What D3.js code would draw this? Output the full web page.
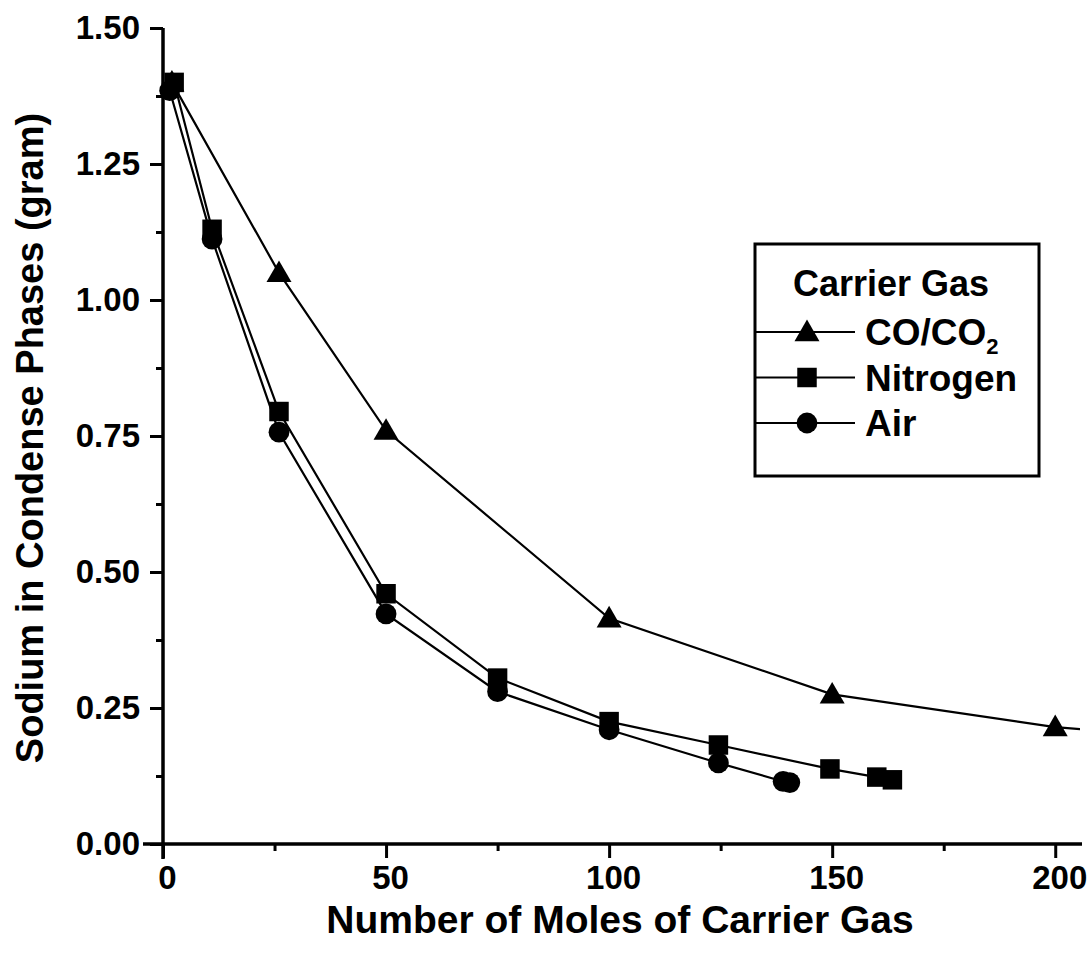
<!DOCTYPE html>
<html>
<head>
<meta charset="utf-8">
<script src="https://cdn.jsdelivr.net/npm/d3@7"></script>
<style>
  body { margin: 0; background: #fff; }
  text { font-family: "Liberation Sans", Arial, Helvetica, sans-serif; font-weight: bold; fill: #000; }
</style>
</head>
<body>
<svg id="chart" width="1090" height="957"></svg>
<script>
// values
var coX = [2, 26, 50, 100, 150, 200, 215];
var coY = [1.40, 1.05, 0.76, 0.415, 0.275, 0.215, 0.205];
var n2X = [2.5, 11, 26, 50, 75, 100, 124.5, 149.5, 160, 163.5];
var n2Y = [1.40, 1.13, 0.795, 0.46, 0.305, 0.225, 0.182, 0.138, 0.123, 0.118];
var airX = [1.5, 11, 26, 50, 75, 100, 124.5, 139, 140.5];
var airY = [1.385, 1.112, 0.757, 0.423, 0.28, 0.21, 0.149, 0.115, 0.113];
var seriesNames = ["CO/CO2", "Nitrogen", "Air"];
var xTicks = [0, 50, 100, 150, 200];
var yTicks = [0, 0.25, 0.5, 0.75, 1.0, 1.25, 1.5];

var margin = {left: 163, top: 28, right: 8, bottom: 113};
var width = 1090 - margin.left - margin.right, height = 957 - margin.top - margin.bottom;

var svg = d3.select("#chart");
var g = svg.append("g").attr("transform", `translate(${margin.left},${margin.top})`);

var x = d3.scaleLinear().domain([0, 206]).range([0, width]);
var y = d3.scaleLinear().domain([0, 1.5]).range([height, 0]);

g.append("clipPath").attr("id", "clip").append("rect")
  .attr("x", -20).attr("y", -20).attr("width", width + 18).attr("height", height + 40);

// minor ticks
g.append("g").attr("transform", `translate(0,${height})`)
  .call(d3.axisBottom(x).tickValues(d3.range(25, 206, 50)).tickSize(7).tickFormat(""))
  .call(a => a.select(".domain").remove())
  .selectAll("line").attr("stroke-width", 3);
g.append("g")
  .call(d3.axisLeft(y).tickValues(d3.range(0.125, 1.5, 0.25)).tickSize(7).tickFormat(""))
  .call(a => a.select(".domain").remove())
  .selectAll("line").attr("stroke-width", 3);

// major axes
var xAxis = g.append("g").attr("transform", `translate(0,${height})`)
  .call(d3.axisBottom(x).tickValues(xTicks).tickSize(14).tickSizeOuter(0).tickPadding(8).tickFormat(d3.format("d")));
xAxis.select(".domain").remove();
xAxis.selectAll("line").attr("stroke-width", 3);
xAxis.selectAll("text").attr("font-size", 33).attr("dx", 4);

var yAxis = g.append("g")
  .call(d3.axisLeft(y).tickValues(yTicks).tickSize(13).tickSizeOuter(0).tickPadding(10).tickFormat(d3.format(".2f")));
yAxis.select(".domain").remove();
yAxis.selectAll("line").attr("stroke-width", 3);
yAxis.selectAll("text").attr("font-size", 33);

// axis lines drawn a bit past the corner like the original
g.append("line").attr("x1", -20).attr("x2", width).attr("y1", height).attr("y2", height)
  .attr("stroke", "#000").attr("stroke-width", 3.5);
g.append("line").attr("x1", 0).attr("x2", 0).attr("y1", 0).attr("y2", height + 15)
  .attr("stroke", "#000").attr("stroke-width", 3.5);

// axis titles
svg.append("text").attr("x", 620).attr("y", 933)
  .attr("text-anchor", "middle").attr("font-size", 39).text("Number of Moles of Carrier Gas");
svg.append("text").attr("transform", `translate(43,${margin.top + height / 2 + 2}) rotate(-90)`)
  .attr("text-anchor", "middle").attr("font-size", 38).text("Sodium in Condense Phases (gram)");

var line = d3.line().x(d => x(d[0])).y(d => y(d[1]));
var series = [
  {name: seriesNames[0], pts: d3.zip(coX, coY), sym: d3.symbolTriangle, size: 270},
  {name: seriesNames[1], pts: d3.zip(n2X, n2Y), sym: d3.symbolSquare, size: 380},
  {name: seriesNames[2], pts: d3.zip(airX, airY), sym: d3.symbolCircle, size: 340}
];

var plot = g.append("g").attr("clip-path", "url(#clip)");
series.forEach(function(s) {
  plot.append("path").datum(s.pts).attr("d", line)
    .attr("fill", "none").attr("stroke", "#000").attr("stroke-width", 2.2);
  plot.selectAll(null).data(s.pts).enter().append("path")
    .attr("d", d3.symbol().type(s.sym).size(s.size))
    .attr("transform", d => `translate(${x(d[0])},${y(d[1]) + (s.sym === d3.symbolTriangle ? 2 : 0)})`)
    .attr("fill", "#000");
});

// legend
var lg = svg.append("g").attr("transform", "translate(755,244)");
lg.append("rect").attr("width", 284).attr("height", 232)
  .attr("fill", "#fff").attr("stroke", "#000").attr("stroke-width", 3);
lg.append("text").attr("x", 136).attr("y", 52).attr("text-anchor", "middle").attr("font-size", 36).text("Carrier Gas");
series.forEach(function(s, i) {
  var yy = 88 + i * 45.5;
  lg.append("line").attr("x1", 0).attr("x2", 100).attr("y1", yy).attr("y2", yy)
    .attr("stroke", "#000").attr("stroke-width", 2.2);
  lg.append("path").attr("d", d3.symbol().type(s.sym).size(s.size))
    .attr("transform", `translate(52,${yy + (s.sym === d3.symbolTriangle ? 2 : 0)})`).attr("fill", "#000");
  var t = lg.append("text").attr("x", 110).attr("y", yy + 13).attr("font-size", 37);
  if (s.name === "CO/CO2") {
    t.text("CO/CO");
    t.append("tspan").attr("font-size", 22).attr("dy", 9).text("2");
  } else {
    t.text(s.name);
  }
});
</script>
</body>
</html>
